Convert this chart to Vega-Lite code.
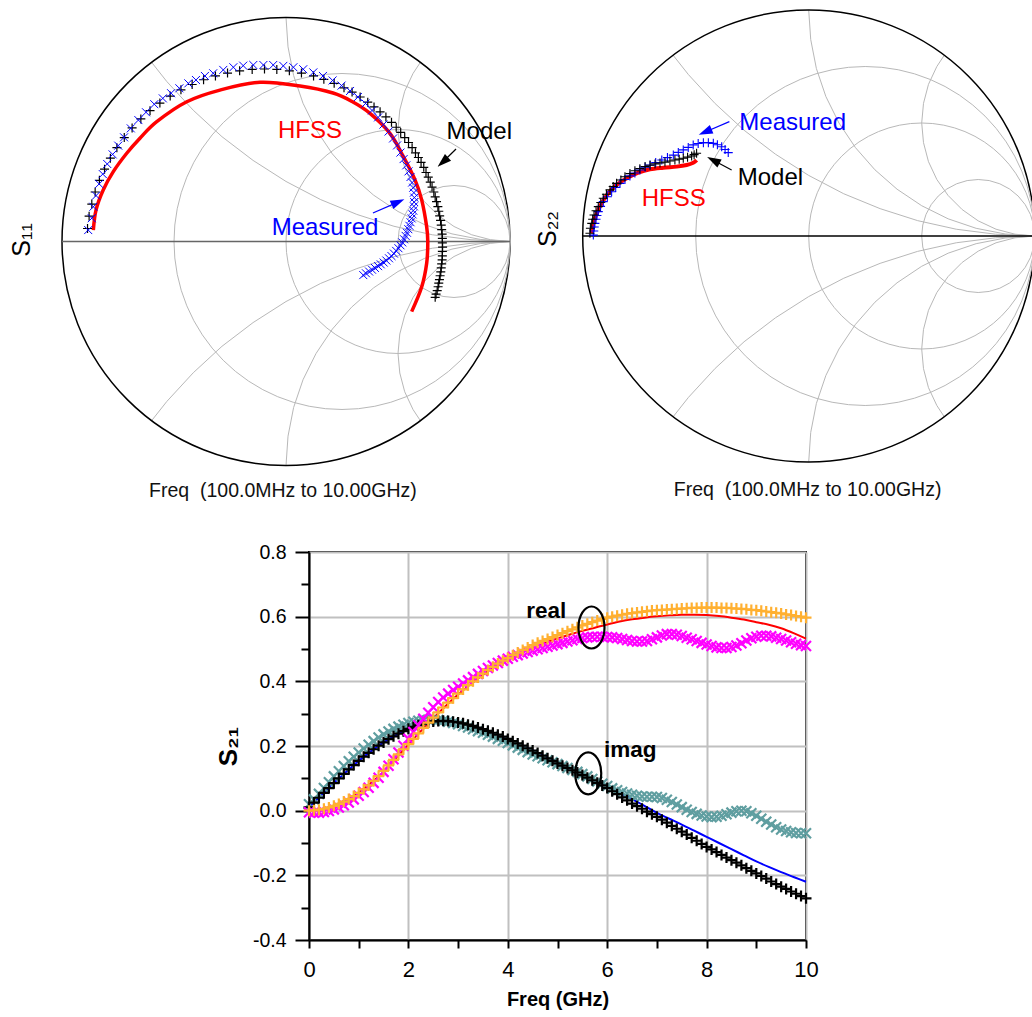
{
"$schema": "https://vega.github.io/schema/vega-lite/v6.json",
"padding": 0,
"background": "white",
"config": {"view": {"stroke": null}, "font": "Liberation Sans"},
"datasets": {
"grid": [
{"a":"a","i":0,"gx":-0.6,"gy":0.8},{"a":"a","i":1,"gx":-0.532,"gy":0.714},{"a":"a","i":2,"gx":-0.414,"gy":0.586},{"a":"a","i":3,"gx":-0.286,"gy":0.468},{"a":"a","i":4,"gx":-0.147,"gy":0.362},{"a":"a","i":5,"gx":0,"gy":0.268},{"a":"a","i":6,"gx":0.155,"gy":0.187},{"a":"a","i":7,"gx":0.316,"gy":0.121},{"a":"a","i":8,"gx":0.482,"gy":0.068},{"a":"a","i":9,"gx":0.653,"gy":0.030},{"a":"a","i":10,"gx":0.826,"gy":0.008},{"a":"a","i":11,"gx":1,"gy":0},
{"a":"b","i":0,"gx":-0.6,"gy":-0.8},{"a":"b","i":1,"gx":-0.532,"gy":-0.714},{"a":"b","i":2,"gx":-0.414,"gy":-0.586},{"a":"b","i":3,"gx":-0.286,"gy":-0.468},{"a":"b","i":4,"gx":-0.147,"gy":-0.362},{"a":"b","i":5,"gx":0,"gy":-0.268},{"a":"b","i":6,"gx":0.155,"gy":-0.187},{"a":"b","i":7,"gx":0.316,"gy":-0.121},{"a":"b","i":8,"gx":0.482,"gy":-0.068},{"a":"b","i":9,"gx":0.653,"gy":-0.030},{"a":"b","i":10,"gx":0.826,"gy":-0.008},{"a":"b","i":11,"gx":1,"gy":0},
{"a":"c","i":0,"gx":0,"gy":1},{"a":"c","i":1,"gx":0.009,"gy":0.869},{"a":"c","i":2,"gx":0.034,"gy":0.741},{"a":"c","i":3,"gx":0.076,"gy":0.617},{"a":"c","i":4,"gx":0.134,"gy":0.5},{"a":"c","i":5,"gx":0.207,"gy":0.391},{"a":"c","i":6,"gx":0.293,"gy":0.293},{"a":"c","i":7,"gx":0.391,"gy":0.207},{"a":"c","i":8,"gx":0.5,"gy":0.134},{"a":"c","i":9,"gx":0.617,"gy":0.076},{"a":"c","i":10,"gx":0.741,"gy":0.034},{"a":"c","i":11,"gx":0.869,"gy":0.009},{"a":"c","i":12,"gx":1,"gy":0},
{"a":"d","i":0,"gx":0,"gy":-1},{"a":"d","i":1,"gx":0.009,"gy":-0.869},{"a":"d","i":2,"gx":0.034,"gy":-0.741},{"a":"d","i":3,"gx":0.076,"gy":-0.617},{"a":"d","i":4,"gx":0.134,"gy":-0.5},{"a":"d","i":5,"gx":0.207,"gy":-0.391},{"a":"d","i":6,"gx":0.293,"gy":-0.293},{"a":"d","i":7,"gx":0.391,"gy":-0.207},{"a":"d","i":8,"gx":0.5,"gy":-0.134},{"a":"d","i":9,"gx":0.617,"gy":-0.076},{"a":"d","i":10,"gx":0.741,"gy":-0.034},{"a":"d","i":11,"gx":0.869,"gy":-0.009},{"a":"d","i":12,"gx":1,"gy":0},
{"a":"e","i":0,"gx":0.6,"gy":0.8},{"a":"e","i":1,"gx":0.567,"gy":0.75},{"a":"e","i":2,"gx":0.530,"gy":0.671},{"a":"e","i":3,"gx":0.508,"gy":0.587},{"a":"e","i":4,"gx":0.5,"gy":0.5},{"a":"e","i":5,"gx":0.508,"gy":0.413},{"a":"e","i":6,"gx":0.530,"gy":0.329},{"a":"e","i":7,"gx":0.567,"gy":0.25},{"a":"e","i":8,"gx":0.617,"gy":0.179},{"a":"e","i":9,"gx":0.679,"gy":0.117},{"a":"e","i":10,"gx":0.75,"gy":0.067},{"a":"e","i":11,"gx":0.829,"gy":0.030},{"a":"e","i":12,"gx":0.913,"gy":0.008},{"a":"e","i":13,"gx":1,"gy":0},
{"a":"f","i":0,"gx":0.6,"gy":-0.8},{"a":"f","i":1,"gx":0.567,"gy":-0.75},{"a":"f","i":2,"gx":0.530,"gy":-0.671},{"a":"f","i":3,"gx":0.508,"gy":-0.587},{"a":"f","i":4,"gx":0.5,"gy":-0.5},{"a":"f","i":5,"gx":0.508,"gy":-0.413},{"a":"f","i":6,"gx":0.530,"gy":-0.329},{"a":"f","i":7,"gx":0.567,"gy":-0.25},{"a":"f","i":8,"gx":0.617,"gy":-0.179},{"a":"f","i":9,"gx":0.679,"gy":-0.117},{"a":"f","i":10,"gx":0.75,"gy":-0.067},{"a":"f","i":11,"gx":0.829,"gy":-0.030},{"a":"f","i":12,"gx":0.913,"gy":-0.008},{"a":"f","i":13,"gx":1,"gy":0}
],
"circ": [{"gx":0,"gy":0,"d2":4,"k":"o"},{"gx":0.25,"gy":0,"d2":2.25,"k":"g"},{"gx":0.5,"gy":0,"d2":1,"k":"g"},{"gx":0.75,"gy":0,"d2":0.25,"k":"g"}],
"realaxis": [{"gx":-1,"hx":1,"gy":0}],
"s11h": [
{"i":0,"gx":-0.860,"gy":0.051},{"i":1,"gx":-0.848,"gy":0.141},{"i":2,"gx":-0.816,"gy":0.230},{"i":3,"gx":-0.771,"gy":0.312},{"i":4,"gx":-0.711,"gy":0.394},{"i":5,"gx":-0.652,"gy":0.461},{"i":6,"gx":-0.577,"gy":0.535},{"i":7,"gx":-0.443,"gy":0.624},{"i":8,"gx":-0.295,"gy":0.676},{"i":9,"gx":-0.116,"gy":0.711},{"i":10,"gx":0.063,"gy":0.694},{"i":11,"gx":0.210,"gy":0.663},{"i":12,"gx":0.295,"gy":0.625},{"i":13,"gx":0.375,"gy":0.572},{"i":14,"gx":0.464,"gy":0.483},{"i":15,"gx":0.524,"gy":0.379},{"i":16,"gx":0.576,"gy":0.275},{"i":17,"gx":0.606,"gy":0.185},{"i":18,"gx":0.628,"gy":0.066},{"i":19,"gx":0.633,"gy":-0.001},{"i":20,"gx":0.628,"gy":-0.097},{"i":21,"gx":0.606,"gy":-0.202},{"i":22,"gx":0.561,"gy":-0.313}
],
"s11m": [
{"gx":-0.886,"gy":0.058},{"gx":-0.879,"gy":0.113},{"gx":-0.867,"gy":0.167},{"gx":-0.852,"gy":0.221},{"gx":-0.833,"gy":0.273},{"gx":-0.810,"gy":0.323},{"gx":-0.784,"gy":0.372},{"gx":-0.755,"gy":0.419},{"gx":-0.722,"gy":0.464},{"gx":-0.687,"gy":0.507},{"gx":-0.648,"gy":0.547},{"gx":-0.607,"gy":0.584},{"gx":-0.563,"gy":0.618},{"gx":-0.517,"gy":0.649},{"gx":-0.469,"gy":0.677},{"gx":-0.419,"gy":0.701},{"gx":-0.368,"gy":0.722},{"gx":-0.315,"gy":0.739},{"gx":-0.261,"gy":0.752},{"gx":-0.207,"gy":0.762},{"gx":-0.151,"gy":0.768},{"gx":-0.096,"gy":0.770},{"gx":-0.041,"gy":0.768},{"gx":0.015,"gy":0.762},{"gx":0.069,"gy":0.752},{"gx":0.123,"gy":0.739},{"gx":0.169,"gy":0.724},{"gx":0.215,"gy":0.706},{"gx":0.259,"gy":0.686},{"gx":0.295,"gy":0.667},{"gx":0.331,"gy":0.645},{"gx":0.365,"gy":0.622},{"gx":0.393,"gy":0.601},{"gx":0.420,"gy":0.579},{"gx":0.446,"gy":0.556},{"gx":0.471,"gy":0.532},{"gx":0.492,"gy":0.510},{"gx":0.512,"gy":0.487},{"gx":0.530,"gy":0.464},{"gx":0.547,"gy":0.442},{"gx":0.563,"gy":0.419},{"gx":0.578,"gy":0.396},{"gx":0.591,"gy":0.375},{"gx":0.603,"gy":0.353},{"gx":0.615,"gy":0.331},{"gx":0.625,"gy":0.308},{"gx":0.635,"gy":0.287},{"gx":0.644,"gy":0.265},{"gx":0.652,"gy":0.243},{"gx":0.660,"gy":0.221},{"gx":0.666,"gy":0.199},{"gx":0.672,"gy":0.178},{"gx":0.678,"gy":0.156},{"gx":0.682,"gy":0.135},{"gx":0.686,"gy":0.114},{"gx":0.690,"gy":0.094},{"gx":0.693,"gy":0.073},{"gx":0.695,"gy":0.053},{"gx":0.697,"gy":0.033},{"gx":0.698,"gy":0.014},{"gx":0.698,"gy":-0.006},{"gx":0.699,"gy":-0.025},{"gx":0.698,"gy":-0.044},{"gx":0.698,"gy":-0.064},{"gx":0.697,"gy":-0.082},{"gx":0.695,"gy":-0.100},{"gx":0.693,"gy":-0.118},{"gx":0.691,"gy":-0.136},{"gx":0.688,"gy":-0.153},{"gx":0.685,"gy":-0.170},{"gx":0.682,"gy":-0.186},{"gx":0.679,"gy":-0.202},{"gx":0.675,"gy":-0.219},{"gx":0.670,"gy":-0.235},{"gx":0.666,"gy":-0.249}
],
"s11x": [
{"gx":-0.883,"gy":0.051},{"gx":-0.867,"gy":0.104},{"gx":-0.860,"gy":0.155},{"gx":-0.848,"gy":0.205},{"gx":-0.834,"gy":0.257},{"gx":-0.818,"gy":0.301},{"gx":-0.798,"gy":0.346},{"gx":-0.774,"gy":0.389},{"gx":-0.749,"gy":0.428},{"gx":-0.723,"gy":0.465},{"gx":-0.693,"gy":0.505},{"gx":-0.659,"gy":0.542},{"gx":-0.625,"gy":0.577},{"gx":-0.588,"gy":0.613},{"gx":-0.550,"gy":0.639},{"gx":-0.513,"gy":0.662},{"gx":-0.476,"gy":0.684},{"gx":-0.436,"gy":0.706},{"gx":-0.402,"gy":0.721},{"gx":-0.362,"gy":0.739},{"gx":-0.325,"gy":0.751},{"gx":-0.280,"gy":0.766},{"gx":-0.235,"gy":0.778},{"gx":-0.191,"gy":0.785},{"gx":-0.146,"gy":0.788},{"gx":-0.101,"gy":0.788},{"gx":-0.057,"gy":0.788},{"gx":-0.012,"gy":0.784},{"gx":0.033,"gy":0.778},{"gx":0.077,"gy":0.769},{"gx":0.122,"gy":0.755},{"gx":0.165,"gy":0.739},{"gx":0.208,"gy":0.719},{"gx":0.248,"gy":0.696},{"gx":0.286,"gy":0.672},{"gx":0.321,"gy":0.645},{"gx":0.355,"gy":0.616},{"gx":0.384,"gy":0.585},{"gx":0.411,"gy":0.554},{"gx":0.435,"gy":0.522},{"gx":0.458,"gy":0.491},{"gx":0.478,"gy":0.460},{"gx":0.496,"gy":0.429},{"gx":0.511,"gy":0.397},{"gx":0.525,"gy":0.368},{"gx":0.537,"gy":0.340},{"gx":0.547,"gy":0.313},{"gx":0.556,"gy":0.288},{"gx":0.563,"gy":0.263},{"gx":0.568,"gy":0.240},{"gx":0.571,"gy":0.218},{"gx":0.573,"gy":0.196},{"gx":0.572,"gy":0.176},{"gx":0.571,"gy":0.157},{"gx":0.568,"gy":0.138},{"gx":0.565,"gy":0.121},{"gx":0.561,"gy":0.103},{"gx":0.556,"gy":0.086},{"gx":0.551,"gy":0.070},{"gx":0.546,"gy":0.055},{"gx":0.540,"gy":0.039},{"gx":0.534,"gy":0.025},{"gx":0.527,"gy":0.010},{"gx":0.519,"gy":-0.004},{"gx":0.511,"gy":-0.017},{"gx":0.502,"gy":-0.030},{"gx":0.492,"gy":-0.042},{"gx":0.482,"gy":-0.054},{"gx":0.471,"gy":-0.065},{"gx":0.460,"gy":-0.075},{"gx":0.448,"gy":-0.085},{"gx":0.436,"gy":-0.094},{"gx":0.423,"gy":-0.102},{"gx":0.411,"gy":-0.110},{"gx":0.397,"gy":-0.118},{"gx":0.384,"gy":-0.126},{"gx":0.371,"gy":-0.134},{"gx":0.357,"gy":-0.142},{"gx":0.345,"gy":-0.150}
],
"s22h": [
{"i":0,"gx":-0.960,"gy":0.012},{"i":1,"gx":-0.953,"gy":0.056},{"i":2,"gx":-0.938,"gy":0.100},{"i":3,"gx":-0.916,"gy":0.145},{"i":4,"gx":-0.887,"gy":0.189},{"i":5,"gx":-0.850,"gy":0.226},{"i":6,"gx":-0.805,"gy":0.255},{"i":7,"gx":-0.754,"gy":0.280},{"i":8,"gx":-0.702,"gy":0.295},{"i":9,"gx":-0.643,"gy":0.302},{"i":10,"gx":-0.584,"gy":0.307},{"i":11,"gx":-0.540,"gy":0.314},{"i":12,"gx":-0.511,"gy":0.324},{"i":13,"gx":-0.496,"gy":0.336}
],
"s22m": [
{"gx":-0.968,"gy":0.012},{"gx":-0.966,"gy":0.034},{"gx":-0.960,"gy":0.056},{"gx":-0.956,"gy":0.074},{"gx":-0.950,"gy":0.093},{"gx":-0.941,"gy":0.112},{"gx":-0.931,"gy":0.130},{"gx":-0.920,"gy":0.148},{"gx":-0.909,"gy":0.167},{"gx":-0.895,"gy":0.185},{"gx":-0.879,"gy":0.204},{"gx":-0.865,"gy":0.219},{"gx":-0.850,"gy":0.233},{"gx":-0.831,"gy":0.248},{"gx":-0.813,"gy":0.262},{"gx":-0.791,"gy":0.276},{"gx":-0.769,"gy":0.289},{"gx":-0.747,"gy":0.298},{"gx":-0.724,"gy":0.307},{"gx":-0.702,"gy":0.313},{"gx":-0.680,"gy":0.319},{"gx":-0.658,"gy":0.323},{"gx":-0.636,"gy":0.327},{"gx":-0.614,"gy":0.332},{"gx":-0.592,"gy":0.336},{"gx":-0.573,"gy":0.340},{"gx":-0.555,"gy":0.344},{"gx":-0.536,"gy":0.349},{"gx":-0.518,"gy":0.354},{"gx":-0.507,"gy":0.360},{"gx":-0.496,"gy":0.366}
],
"s22x": [
{"gx":-0.953,"gy":0.004},{"gx":-0.951,"gy":0.022},{"gx":-0.949,"gy":0.040},{"gx":-0.946,"gy":0.056},{"gx":-0.941,"gy":0.074},{"gx":-0.937,"gy":0.091},{"gx":-0.931,"gy":0.108},{"gx":-0.921,"gy":0.131},{"gx":-0.909,"gy":0.152},{"gx":-0.891,"gy":0.174},{"gx":-0.872,"gy":0.196},{"gx":-0.854,"gy":0.215},{"gx":-0.835,"gy":0.233},{"gx":-0.813,"gy":0.250},{"gx":-0.791,"gy":0.266},{"gx":-0.769,"gy":0.279},{"gx":-0.747,"gy":0.292},{"gx":-0.724,"gy":0.304},{"gx":-0.702,"gy":0.314},{"gx":-0.677,"gy":0.325},{"gx":-0.650,"gy":0.336},{"gx":-0.625,"gy":0.347},{"gx":-0.599,"gy":0.358},{"gx":-0.577,"gy":0.370},{"gx":-0.555,"gy":0.381},{"gx":-0.533,"gy":0.392},{"gx":-0.511,"gy":0.403},{"gx":-0.489,"gy":0.409},{"gx":-0.466,"gy":0.413},{"gx":-0.444,"gy":0.413},{"gx":-0.422,"gy":0.410},{"gx":-0.404,"gy":0.404},{"gx":-0.385,"gy":0.395},{"gx":-0.370,"gy":0.383},{"gx":-0.356,"gy":0.369}
],
"ann1": [{"gx":-0.036,"gy":0.461,"t":"HFSS","c":"#ff0000"},{"gx":0.717,"gy":0.456,"t":"Model","c":"#000000"},{"gx":-0.064,"gy":0.029,"t":"Measured","c":"#0000ff"}],
"ann2": [{"gx":-0.307,"gy":0.469,"t":"Measured","c":"#0000ff"},{"gx":-0.314,"gy":0.226,"t":"Model","c":"#000000"},{"gx":-0.739,"gy":0.133,"t":"HFSS","c":"#ff0000"}],
"arr1": [{"gx":0.759,"gy":0.413,"hx":0.700,"hy":0.355,"ang":228,"c":"#000000"},{"gx":0.388,"gy":0.127,"hx":0.500,"hy":0.176,"ang":66,"c":"#0000ff"}],
"arr2": [{"gx":-0.351,"gy":0.506,"hx":-0.458,"hy":0.460,"ang":247,"c":"#0000ff"},{"gx":-0.341,"gy":0.292,"hx":-0.422,"hy":0.335,"ang":298,"c":"#000000"}],
"ftit1": [{"gx":-0.014,"gy":-1.142,"t":"Freq\u00a0 (100.0MHz to 10.00GHz)"}],
"ftit2": [{"gx":-0.005,"gy":-1.149,"t":"Freq\u00a0 (100.0MHz to 10.00GHz)"}],
"ylab1": [{"gx":-1.179,"gy":0.007,"t":"S\u2081\u2081"}],
"ylab2": [{"gx":-1.1535,"gy":0.031,"t":"S\u2082\u2082"}],
"rh": [
{"f":0,"v":0},{"f":0.25,"v":0.004},{"f":0.5,"v":0.016},{"f":0.75,"v":0.034},{"f":1,"v":0.057},{"f":1.25,"v":0.086},{"f":1.5,"v":0.12},{"f":1.75,"v":0.162},{"f":2,"v":0.204},{"f":2.25,"v":0.246},{"f":2.5,"v":0.286},{"f":2.75,"v":0.324},{"f":3,"v":0.359},{"f":3.25,"v":0.391},{"f":3.5,"v":0.42},{"f":3.75,"v":0.446},{"f":4,"v":0.468},{"f":4.25,"v":0.487},{"f":4.5,"v":0.505},{"f":4.75,"v":0.52},{"f":5,"v":0.533},{"f":5.25,"v":0.545},{"f":5.5,"v":0.556},{"f":5.75,"v":0.566},{"f":6,"v":0.576},{"f":6.25,"v":0.585},{"f":6.5,"v":0.592},{"f":6.75,"v":0.597},{"f":7,"v":0.601},{"f":7.25,"v":0.604},{"f":7.5,"v":0.606},{"f":7.75,"v":0.606},{"f":8,"v":0.605},{"f":8.25,"v":0.602},{"f":8.5,"v":0.597},{"f":8.75,"v":0.591},{"f":9,"v":0.583},{"f":9.25,"v":0.575},{"f":9.5,"v":0.564},{"f":9.75,"v":0.549},{"f":10,"v":0.532}
],
"ih": [
{"f":0,"v":0.01},{"f":0.25,"v":0.048},{"f":0.5,"v":0.086},{"f":0.75,"v":0.12},{"f":1,"v":0.154},{"f":1.25,"v":0.184},{"f":1.5,"v":0.211},{"f":1.75,"v":0.234},{"f":2,"v":0.253},{"f":2.25,"v":0.267},{"f":2.5,"v":0.276},{"f":2.75,"v":0.278},{"f":3,"v":0.273},{"f":3.25,"v":0.263},{"f":3.5,"v":0.252},{"f":3.75,"v":0.238},{"f":4,"v":0.223},{"f":4.25,"v":0.205},{"f":4.5,"v":0.187},{"f":4.75,"v":0.167},{"f":5,"v":0.148},{"f":5.25,"v":0.129},{"f":5.5,"v":0.111},{"f":5.75,"v":0.092},{"f":6,"v":0.074},{"f":6.25,"v":0.055},{"f":6.5,"v":0.036},{"f":6.75,"v":0.015},{"f":7,"v":-0.007},{"f":7.25,"v":-0.025},{"f":7.5,"v":-0.043},{"f":7.75,"v":-0.062},{"f":8,"v":-0.081},{"f":8.25,"v":-0.1},{"f":8.5,"v":-0.119},{"f":8.75,"v":-0.138},{"f":9,"v":-0.157},{"f":9.25,"v":-0.174},{"f":9.5,"v":-0.19},{"f":9.75,"v":-0.205},{"f":10,"v":-0.22}
],
"rm": [
{"f":0,"v":0},{"f":0.1,"v":0.001},{"f":0.2,"v":0.003},{"f":0.3,"v":0.006},{"f":0.4,"v":0.01},{"f":0.5,"v":0.015},{"f":0.6,"v":0.021},{"f":0.7,"v":0.028},{"f":0.8,"v":0.036},{"f":0.9,"v":0.045},{"f":1,"v":0.055},{"f":1.1,"v":0.066},{"f":1.2,"v":0.078},{"f":1.3,"v":0.092},{"f":1.4,"v":0.107},{"f":1.5,"v":0.123},{"f":1.6,"v":0.14},{"f":1.7,"v":0.157},{"f":1.8,"v":0.174},{"f":1.9,"v":0.19},{"f":2,"v":0.206},{"f":2.1,"v":0.222},{"f":2.2,"v":0.239},{"f":2.3,"v":0.256},{"f":2.4,"v":0.272},{"f":2.5,"v":0.288},{"f":2.6,"v":0.304},{"f":2.7,"v":0.319},{"f":2.8,"v":0.334},{"f":2.9,"v":0.348},{"f":3,"v":0.362},{"f":3.1,"v":0.375},{"f":3.2,"v":0.388},{"f":3.3,"v":0.4},{"f":3.4,"v":0.412},{"f":3.5,"v":0.424},{"f":3.6,"v":0.435},{"f":3.7,"v":0.445},{"f":3.8,"v":0.455},{"f":3.9,"v":0.464},{"f":4,"v":0.472},{"f":4.1,"v":0.481},{"f":4.2,"v":0.489},{"f":4.3,"v":0.497},{"f":4.4,"v":0.505},{"f":4.5,"v":0.512},{"f":4.6,"v":0.519},{"f":4.7,"v":0.525},{"f":4.8,"v":0.531},{"f":4.9,"v":0.537},{"f":5,"v":0.543},{"f":5.1,"v":0.549},{"f":5.2,"v":0.555},{"f":5.3,"v":0.561},{"f":5.4,"v":0.567},{"f":5.5,"v":0.573},{"f":5.6,"v":0.578},{"f":5.7,"v":0.583},{"f":5.8,"v":0.588},{"f":5.9,"v":0.593},{"f":6,"v":0.597},{"f":6.1,"v":0.6},{"f":6.2,"v":0.603},{"f":6.3,"v":0.606},{"f":6.4,"v":0.609},{"f":6.5,"v":0.611},{"f":6.6,"v":0.613},{"f":6.7,"v":0.615},{"f":6.8,"v":0.617},{"f":6.9,"v":0.619},{"f":7,"v":0.62},{"f":7.1,"v":0.621},{"f":7.2,"v":0.622},{"f":7.3,"v":0.623},{"f":7.4,"v":0.624},{"f":7.5,"v":0.625},{"f":7.6,"v":0.626},{"f":7.7,"v":0.627},{"f":7.8,"v":0.627},{"f":7.9,"v":0.628},{"f":8,"v":0.628},{"f":8.1,"v":0.628},{"f":8.2,"v":0.628},{"f":8.3,"v":0.627},{"f":8.4,"v":0.627},{"f":8.5,"v":0.626},{"f":8.6,"v":0.625},{"f":8.7,"v":0.624},{"f":8.8,"v":0.623},{"f":8.9,"v":0.621},{"f":9,"v":0.62},{"f":9.1,"v":0.618},{"f":9.2,"v":0.616},{"f":9.3,"v":0.614},{"f":9.4,"v":0.612},{"f":9.5,"v":0.61},{"f":9.6,"v":0.607},{"f":9.7,"v":0.605},{"f":9.8,"v":0.602},{"f":9.9,"v":0.6},{"f":10,"v":0.597}
],
"rx": [
{"f":0,"v":-0.005},{"f":0.1,"v":-0.006},{"f":0.2,"v":-0.006},{"f":0.3,"v":-0.004},{"f":0.4,"v":-0.001},{"f":0.5,"v":0.004},{"f":0.6,"v":0.01},{"f":0.7,"v":0.017},{"f":0.8,"v":0.025},{"f":0.9,"v":0.035},{"f":1,"v":0.046},{"f":1.1,"v":0.058},{"f":1.2,"v":0.071},{"f":1.3,"v":0.086},{"f":1.4,"v":0.102},{"f":1.5,"v":0.12},{"f":1.6,"v":0.139},{"f":1.7,"v":0.159},{"f":1.8,"v":0.18},{"f":1.9,"v":0.201},{"f":2,"v":0.222},{"f":2.1,"v":0.243},{"f":2.2,"v":0.264},{"f":2.3,"v":0.284},{"f":2.4,"v":0.303},{"f":2.5,"v":0.32},{"f":2.6,"v":0.336},{"f":2.7,"v":0.35},{"f":2.8,"v":0.362},{"f":2.9,"v":0.373},{"f":3,"v":0.383},{"f":3.1,"v":0.393},{"f":3.2,"v":0.403},{"f":3.3,"v":0.413},{"f":3.4,"v":0.423},{"f":3.5,"v":0.432},{"f":3.6,"v":0.441},{"f":3.7,"v":0.449},{"f":3.8,"v":0.457},{"f":3.9,"v":0.464},{"f":4,"v":0.47},{"f":4.1,"v":0.476},{"f":4.2,"v":0.481},{"f":4.3,"v":0.486},{"f":4.4,"v":0.491},{"f":4.5,"v":0.495},{"f":4.6,"v":0.499},{"f":4.7,"v":0.503},{"f":4.8,"v":0.507},{"f":4.9,"v":0.511},{"f":5,"v":0.515},{"f":5.1,"v":0.519},{"f":5.2,"v":0.523},{"f":5.3,"v":0.527},{"f":5.4,"v":0.531},{"f":5.5,"v":0.534},{"f":5.6,"v":0.536},{"f":5.7,"v":0.537},{"f":5.8,"v":0.538},{"f":5.9,"v":0.538},{"f":6,"v":0.537},{"f":6.1,"v":0.536},{"f":6.2,"v":0.534},{"f":6.3,"v":0.531},{"f":6.4,"v":0.528},{"f":6.5,"v":0.525},{"f":6.6,"v":0.523},{"f":6.7,"v":0.523},{"f":6.8,"v":0.525},{"f":6.9,"v":0.53},{"f":7,"v":0.536},{"f":7.1,"v":0.542},{"f":7.2,"v":0.546},{"f":7.3,"v":0.546},{"f":7.4,"v":0.544},{"f":7.5,"v":0.54},{"f":7.6,"v":0.535},{"f":7.7,"v":0.53},{"f":7.8,"v":0.525},{"f":7.9,"v":0.519},{"f":8,"v":0.514},{"f":8.1,"v":0.509},{"f":8.2,"v":0.505},{"f":8.3,"v":0.503},{"f":8.4,"v":0.503},{"f":8.5,"v":0.506},{"f":8.6,"v":0.511},{"f":8.7,"v":0.518},{"f":8.8,"v":0.526},{"f":8.9,"v":0.533},{"f":9,"v":0.538},{"f":9.1,"v":0.541},{"f":9.2,"v":0.541},{"f":9.3,"v":0.539},{"f":9.4,"v":0.535},{"f":9.5,"v":0.531},{"f":9.6,"v":0.526},{"f":9.7,"v":0.521},{"f":9.8,"v":0.516},{"f":9.9,"v":0.512},{"f":10,"v":0.509}
],
"im": [
{"f":0,"v":0.01},{"f":0.1,"v":0.025},{"f":0.2,"v":0.04},{"f":0.3,"v":0.055},{"f":0.4,"v":0.07},{"f":0.5,"v":0.085},{"f":0.6,"v":0.1},{"f":0.7,"v":0.114},{"f":0.8,"v":0.128},{"f":0.9,"v":0.141},{"f":1,"v":0.154},{"f":1.1,"v":0.167},{"f":1.2,"v":0.179},{"f":1.3,"v":0.19},{"f":1.4,"v":0.201},{"f":1.5,"v":0.211},{"f":1.6,"v":0.221},{"f":1.7,"v":0.23},{"f":1.8,"v":0.238},{"f":1.9,"v":0.246},{"f":2,"v":0.253},{"f":2.1,"v":0.259},{"f":2.2,"v":0.264},{"f":2.3,"v":0.269},{"f":2.4,"v":0.273},{"f":2.5,"v":0.276},{"f":2.6,"v":0.277},{"f":2.7,"v":0.278},{"f":2.8,"v":0.277},{"f":2.9,"v":0.275},{"f":3,"v":0.273},{"f":3.1,"v":0.27},{"f":3.2,"v":0.266},{"f":3.3,"v":0.262},{"f":3.4,"v":0.257},{"f":3.5,"v":0.252},{"f":3.6,"v":0.247},{"f":3.7,"v":0.241},{"f":3.8,"v":0.235},{"f":3.9,"v":0.229},{"f":4,"v":0.222},{"f":4.1,"v":0.215},{"f":4.2,"v":0.208},{"f":4.3,"v":0.201},{"f":4.4,"v":0.193},{"f":4.5,"v":0.186},{"f":4.6,"v":0.178},{"f":4.7,"v":0.17},{"f":4.8,"v":0.162},{"f":4.9,"v":0.154},{"f":5,"v":0.146},{"f":5.1,"v":0.139},{"f":5.2,"v":0.132},{"f":5.3,"v":0.125},{"f":5.4,"v":0.118},{"f":5.5,"v":0.11},{"f":5.6,"v":0.102},{"f":5.7,"v":0.094},{"f":5.8,"v":0.086},{"f":5.9,"v":0.078},{"f":6,"v":0.07},{"f":6.1,"v":0.06},{"f":6.2,"v":0.051},{"f":6.3,"v":0.041},{"f":6.4,"v":0.032},{"f":6.5,"v":0.022},{"f":6.6,"v":0.014},{"f":6.7,"v":0.006},{"f":6.8,"v":-0.003},{"f":6.9,"v":-0.011},{"f":7,"v":-0.019},{"f":7.1,"v":-0.028},{"f":7.2,"v":-0.037},{"f":7.3,"v":-0.047},{"f":7.4,"v":-0.056},{"f":7.5,"v":-0.065},{"f":7.6,"v":-0.074},{"f":7.7,"v":-0.084},{"f":7.8,"v":-0.093},{"f":7.9,"v":-0.103},{"f":8,"v":-0.112},{"f":8.1,"v":-0.12},{"f":8.2,"v":-0.128},{"f":8.3,"v":-0.137},{"f":8.4,"v":-0.145},{"f":8.5,"v":-0.153},{"f":8.6,"v":-0.161},{"f":8.7,"v":-0.169},{"f":8.8,"v":-0.178},{"f":8.9,"v":-0.186},{"f":9,"v":-0.194},{"f":9.1,"v":-0.202},{"f":9.2,"v":-0.21},{"f":9.3,"v":-0.219},{"f":9.4,"v":-0.227},{"f":9.5,"v":-0.235},{"f":9.6,"v":-0.242},{"f":9.7,"v":-0.25},{"f":9.8,"v":-0.257},{"f":9.9,"v":-0.264},{"f":10,"v":-0.271}
],
"ix": [
{"f":0,"v":0.02},{"f":0.1,"v":0.035},{"f":0.2,"v":0.052},{"f":0.3,"v":0.07},{"f":0.4,"v":0.088},{"f":0.5,"v":0.106},{"f":0.6,"v":0.122},{"f":0.7,"v":0.138},{"f":0.8,"v":0.153},{"f":0.9,"v":0.167},{"f":1,"v":0.18},{"f":1.1,"v":0.192},{"f":1.2,"v":0.204},{"f":1.3,"v":0.215},{"f":1.4,"v":0.226},{"f":1.5,"v":0.236},{"f":1.6,"v":0.245},{"f":1.7,"v":0.253},{"f":1.8,"v":0.26},{"f":1.9,"v":0.266},{"f":2,"v":0.271},{"f":2.1,"v":0.275},{"f":2.2,"v":0.278},{"f":2.3,"v":0.28},{"f":2.4,"v":0.281},{"f":2.5,"v":0.281},{"f":2.6,"v":0.28},{"f":2.7,"v":0.278},{"f":2.8,"v":0.275},{"f":2.9,"v":0.271},{"f":3,"v":0.267},{"f":3.1,"v":0.262},{"f":3.2,"v":0.257},{"f":3.3,"v":0.252},{"f":3.4,"v":0.246},{"f":3.5,"v":0.241},{"f":3.6,"v":0.235},{"f":3.7,"v":0.229},{"f":3.8,"v":0.222},{"f":3.9,"v":0.216},{"f":4,"v":0.209},{"f":4.1,"v":0.202},{"f":4.2,"v":0.195},{"f":4.3,"v":0.188},{"f":4.4,"v":0.181},{"f":4.5,"v":0.174},{"f":4.6,"v":0.168},{"f":4.7,"v":0.162},{"f":4.8,"v":0.156},{"f":4.9,"v":0.15},{"f":5,"v":0.144},{"f":5.1,"v":0.138},{"f":5.2,"v":0.132},{"f":5.3,"v":0.126},{"f":5.4,"v":0.12},{"f":5.5,"v":0.113},{"f":5.6,"v":0.106},{"f":5.7,"v":0.098},{"f":5.8,"v":0.09},{"f":5.9,"v":0.083},{"f":6,"v":0.076},{"f":6.1,"v":0.069},{"f":6.2,"v":0.063},{"f":6.3,"v":0.058},{"f":6.4,"v":0.053},{"f":6.5,"v":0.049},{"f":6.6,"v":0.046},{"f":6.7,"v":0.044},{"f":6.8,"v":0.043},{"f":6.9,"v":0.043},{"f":7,"v":0.042},{"f":7.1,"v":0.039},{"f":7.2,"v":0.034},{"f":7.3,"v":0.027},{"f":7.4,"v":0.019},{"f":7.5,"v":0.011},{"f":7.6,"v":0.003},{"f":7.7,"v":-0.004},{"f":7.8,"v":-0.01},{"f":7.9,"v":-0.015},{"f":8,"v":-0.018},{"f":8.1,"v":-0.02},{"f":8.2,"v":-0.019},{"f":8.3,"v":-0.016},{"f":8.4,"v":-0.011},{"f":8.5,"v":-0.006},{"f":8.6,"v":-0.002},{"f":8.7,"v":0},{"f":8.8,"v":-0.002},{"f":8.9,"v":-0.008},{"f":9,"v":-0.016},{"f":9.1,"v":-0.025},{"f":9.2,"v":-0.034},{"f":9.3,"v":-0.043},{"f":9.4,"v":-0.051},{"f":9.5,"v":-0.058},{"f":9.6,"v":-0.063},{"f":9.7,"v":-0.067},{"f":9.8,"v":-0.069},{"f":9.9,"v":-0.07},{"f":10,"v":-0.07}
],
"lab": [{"f":4.37,"v":0.595,"t":"real"},{"f":5.936,"v":0.167,"t":"imag"}],
"ell": [{"f":5.684,"v":0.5665},{"f":5.618,"v":0.1155}]
},
"vconcat": [
{
"width": 1032, "height": 510,
"layer": [
{"layer": [
{"data": {"name": "grid"}, "mark": {"type": "line", "stroke": "#b8b8b8", "strokeWidth": 1},
 "encoding": {"x": {"field": "gx", "type": "quantitative", "scale": {"domain": [-1.276786, 3.330357], "nice": false, "zero": false}, "axis": null},
  "y": {"field": "gy", "type": "quantitative", "scale": {"domain": [-1.198661, 1.078125], "nice": false, "zero": false}, "axis": null},
  "detail": {"field": "a", "type": "nominal"}, "order": {"field": "i", "type": "quantitative"}}},
{"data": {"name": "circ"}, "mark": {"type": "point", "shape": "circle", "filled": false, "opacity": 1},
 "encoding": {"x": {"field": "gx", "type": "quantitative", "axis": null}, "y": {"field": "gy", "type": "quantitative", "axis": null},
  "size": {"field": "d2", "type": "quantitative", "scale": {"type": "linear", "domain": [0, 4], "range": [0, 200704]}, "legend": null},
  "stroke": {"condition": {"test": "datum.k === 'o'", "value": "#000000"}, "value": "#b8b8b8"},
  "strokeWidth": {"condition": {"test": "datum.k === 'o'", "value": 1.5}, "value": 1}}},
{"data": {"name": "realaxis"}, "mark": {"type": "rule", "color": "#666666", "strokeWidth": 1.3},
 "encoding": {"x": {"field": "gx", "type": "quantitative", "axis": null}, "x2": {"field": "hx"}, "y": {"field": "gy", "type": "quantitative", "axis": null}}},
{"data": {"name": "s11h"}, "mark": {"type": "line", "color": "#ff0000", "strokeWidth": 3.5, "interpolate": "cardinal"},
 "encoding": {"x": {"field": "gx", "type": "quantitative", "axis": null}, "y": {"field": "gy", "type": "quantitative", "axis": null}, "order": {"field": "i", "type": "quantitative"}}},
{"data": {"name": "s11m"}, "mark": {"type": "point", "shape": "M-1,0L1,0M0,-1L0,1", "size": 81, "strokeWidth": 1.2, "color": "#000000", "filled": false, "opacity": 1},
 "encoding": {"x": {"field": "gx", "type": "quantitative", "axis": null}, "y": {"field": "gy", "type": "quantitative", "axis": null}}},
{"data": {"name": "s11x"}, "mark": {"type": "point", "shape": "M-1,-1L1,1M-1,1L1,-1", "size": 64, "strokeWidth": 1, "color": "#0000ff", "filled": false, "opacity": 1},
 "encoding": {"x": {"field": "gx", "type": "quantitative", "axis": null}, "y": {"field": "gy", "type": "quantitative", "axis": null}}},
{"data": {"name": "arr1"}, "mark": {"type": "rule", "strokeWidth": 1.2},
 "encoding": {"x": {"field": "gx", "type": "quantitative", "axis": null}, "y": {"field": "gy", "type": "quantitative", "axis": null}, "x2": {"field": "hx"}, "y2": {"field": "hy"}, "color": {"field": "c", "type": "nominal", "scale": null}}},
{"data": {"name": "arr1"}, "mark": {"type": "point", "shape": "M0,-1L0.65,1L-0.65,1Z", "size": 196, "filled": true, "opacity": 1},
 "encoding": {"x": {"field": "hx", "type": "quantitative", "axis": null}, "y": {"field": "hy", "type": "quantitative", "axis": null}, "angle": {"field": "ang", "type": "quantitative", "scale": null}, "color": {"field": "c", "type": "nominal", "scale": null}}},
{"data": {"name": "ann1"}, "mark": {"type": "text", "fontSize": 24, "align": "left", "baseline": "alphabetic"},
 "encoding": {"x": {"field": "gx", "type": "quantitative", "axis": null}, "y": {"field": "gy", "type": "quantitative", "axis": null}, "text": {"field": "t"}, "color": {"field": "c", "type": "nominal", "scale": null}}},
{"data": {"name": "ftit1"}, "mark": {"type": "text", "fontSize": 19.5, "align": "center", "baseline": "alphabetic", "color": "#111111"},
 "encoding": {"x": {"field": "gx", "type": "quantitative", "axis": null}, "y": {"field": "gy", "type": "quantitative", "axis": null}, "text": {"field": "t"}}},
{"data": {"name": "ylab1"}, "mark": {"type": "text", "fontSize": 25, "align": "center", "baseline": "middle", "angle": 270, "color": "#000000"},
 "encoding": {"x": {"field": "gx", "type": "quantitative", "axis": null}, "y": {"field": "gy", "type": "quantitative", "axis": null}, "text": {"field": "t"}}}
]},
{"layer": [
{"data": {"name": "grid"}, "mark": {"type": "line", "stroke": "#b8b8b8", "strokeWidth": 1, "clip": true},
 "encoding": {"x": {"field": "gx", "type": "quantitative", "scale": {"domain": [-3.578319, 0.988053], "nice": false, "zero": false}, "axis": null},
  "y": {"field": "gy", "type": "quantitative", "scale": {"domain": [-1.212389, 1.044248], "nice": false, "zero": false}, "axis": null},
  "detail": {"field": "a", "type": "nominal"}, "order": {"field": "i", "type": "quantitative"}}},
{"data": {"name": "circ"}, "mark": {"type": "point", "shape": "circle", "filled": false, "opacity": 1, "clip": true},
 "encoding": {"x": {"field": "gx", "type": "quantitative", "axis": null}, "y": {"field": "gy", "type": "quantitative", "axis": null},
  "size": {"field": "d2", "type": "quantitative", "scale": {"type": "linear", "domain": [0, 4], "range": [0, 204304]}, "legend": null},
  "stroke": {"condition": {"test": "datum.k === 'o'", "value": "#000000"}, "value": "#b8b8b8"},
  "strokeWidth": {"condition": {"test": "datum.k === 'o'", "value": 1.5}, "value": 1}}},
{"data": {"name": "realaxis"}, "mark": {"type": "rule", "color": "#000000", "strokeWidth": 1.3, "clip": true},
 "encoding": {"x": {"field": "gx", "type": "quantitative", "axis": null}, "x2": {"field": "hx"}, "y": {"field": "gy", "type": "quantitative", "axis": null}}},
{"data": {"name": "s22h"}, "mark": {"type": "line", "color": "#ff0000", "strokeWidth": 4, "interpolate": "cardinal"},
 "encoding": {"x": {"field": "gx", "type": "quantitative", "axis": null}, "y": {"field": "gy", "type": "quantitative", "axis": null}, "order": {"field": "i", "type": "quantitative"}}},
{"data": {"name": "s22x"}, "mark": {"type": "point", "shape": "M-1,0L1,0M0,-1L0,1", "size": 81, "strokeWidth": 1.1, "color": "#0000ff", "filled": false, "opacity": 1},
 "encoding": {"x": {"field": "gx", "type": "quantitative", "axis": null}, "y": {"field": "gy", "type": "quantitative", "axis": null}}},
{"data": {"name": "s22m"}, "mark": {"type": "point", "shape": "M-1,0L1,0M0,-1L0,1", "size": 81, "strokeWidth": 1.1, "color": "#000000", "filled": false, "opacity": 1},
 "encoding": {"x": {"field": "gx", "type": "quantitative", "axis": null}, "y": {"field": "gy", "type": "quantitative", "axis": null}}},
{"data": {"name": "arr2"}, "mark": {"type": "rule", "strokeWidth": 1.2},
 "encoding": {"x": {"field": "gx", "type": "quantitative", "axis": null}, "y": {"field": "gy", "type": "quantitative", "axis": null}, "x2": {"field": "hx"}, "y2": {"field": "hy"}, "color": {"field": "c", "type": "nominal", "scale": null}}},
{"data": {"name": "arr2"}, "mark": {"type": "point", "shape": "M0,-1L0.65,1L-0.65,1Z", "size": 196, "filled": true, "opacity": 1},
 "encoding": {"x": {"field": "hx", "type": "quantitative", "axis": null}, "y": {"field": "hy", "type": "quantitative", "axis": null}, "angle": {"field": "ang", "type": "quantitative", "scale": null}, "color": {"field": "c", "type": "nominal", "scale": null}}},
{"data": {"name": "ann2"}, "mark": {"type": "text", "fontSize": 24, "align": "left", "baseline": "alphabetic"},
 "encoding": {"x": {"field": "gx", "type": "quantitative", "axis": null}, "y": {"field": "gy", "type": "quantitative", "axis": null}, "text": {"field": "t"}, "color": {"field": "c", "type": "nominal", "scale": null}}},
{"data": {"name": "ftit2"}, "mark": {"type": "text", "fontSize": 19.5, "align": "center", "baseline": "alphabetic", "color": "#111111"},
 "encoding": {"x": {"field": "gx", "type": "quantitative", "axis": null}, "y": {"field": "gy", "type": "quantitative", "axis": null}, "text": {"field": "t"}}},
{"data": {"name": "ylab2"}, "mark": {"type": "text", "fontSize": 25, "align": "center", "baseline": "middle", "angle": 270, "color": "#000000"},
 "encoding": {"x": {"field": "gx", "type": "quantitative", "axis": null}, "y": {"field": "gy", "type": "quantitative", "axis": null}, "text": {"field": "t"}}}
]}
],
"resolve": {"scale": {"x": "independent", "y": "independent", "size": "independent"}}
},
{
"hconcat": [
{"width": 300, "height": 388, "data": {"values": []}, "mark": {"type": "text"}, "encoding": {}},
{
"width": 497, "height": 388,
"view": {"stroke": "#000000", "strokeWidth": 2},
"layer": [
{"data": {"name": "rh"}, "mark": {"type": "line", "color": "#ff0000", "strokeWidth": 2, "interpolate": "monotone"},
 "encoding": {
  "x": {"field": "f", "type": "quantitative", "scale": {"domain": [0, 10], "nice": false},
   "axis": {"orient": "bottom", "values": [0, 2, 4, 6, 8, 10], "grid": true, "gridColor": "#c0c0c0", "gridWidth": 2, "domainColor": "#000000", "domainWidth": 2, "tickColor": "#000000", "tickWidth": 2, "tickSize": 8, "labelFontSize": 22, "labelColor": "#000000", "labelPadding": 11, "labelFlush": false, "labelOverlap": false, "format": "d", "title": "Freq (GHz)", "titleFontSize": 20, "titleFontWeight": "bold", "titleColor": "#000000", "titleY": 65, "titleBaseline": "alphabetic"}},
  "y": {"field": "v", "type": "quantitative", "scale": {"domain": [-0.4, 0.8], "nice": false, "zero": false},
   "axis": {"orient": "left", "values": [-0.4, -0.2, 0, 0.2, 0.4, 0.6, 0.8], "grid": true, "gridColor": "#c0c0c0", "gridWidth": 2, "domainColor": "#000000", "domainWidth": 2, "tickColor": "#000000", "tickWidth": 2, "tickSize": 14, "labelFontSize": 19.5, "labelColor": "#000000", "labelPadding": 9, "labelFlush": false, "labelOverlap": false,
    "labelExpr": "datum.value < 0 ? '-' + format(-datum.value, '.1f') : format(datum.value, '.1f')",
    "title": "S\u2082\u2081", "titleFontSize": 26, "titleFontWeight": "bold", "titleColor": "#000000", "titleX": -81, "titleY": 194, "titleAngle": 270, "titleAlign": "center", "titleBaseline": "middle"}}}},
{"data": {"name": "ih"}, "mark": {"type": "line", "color": "#0000ff", "strokeWidth": 2, "interpolate": "monotone"},
 "encoding": {
  "x": {"field": "f", "type": "quantitative", "axis": {"orient": "bottom", "values": [1, 3, 5, 7, 9], "grid": false, "domain": false, "labels": false, "tickColor": "#000000", "tickWidth": 2, "tickSize": 8, "title": null}},
  "y": {"field": "v", "type": "quantitative", "axis": {"orient": "left", "values": [-0.3, -0.1, 0.1, 0.3, 0.5, 0.7], "grid": false, "domain": false, "labels": false, "tickColor": "#000000", "tickWidth": 2, "tickSize": 8, "title": null}}}},
{"data": {"name": "ix"}, "mark": {"type": "point", "shape": "M-1,-1L1,1M-1,1L1,-1", "size": 100, "strokeWidth": 2.2, "color": "#5f9ea0", "filled": false, "opacity": 1},
 "encoding": {"x": {"field": "f", "type": "quantitative", "axis": null}, "y": {"field": "v", "type": "quantitative", "axis": null}}},
{"data": {"name": "im"}, "mark": {"type": "point", "shape": "M-1,0L1,0M0,-1L0,1", "size": 121, "strokeWidth": 2.2, "color": "#000000", "filled": false, "opacity": 1},
 "encoding": {"x": {"field": "f", "type": "quantitative", "axis": null}, "y": {"field": "v", "type": "quantitative", "axis": null}}},
{"data": {"name": "rx"}, "mark": {"type": "point", "shape": "M-1,-1L1,1M-1,1L1,-1", "size": 100, "strokeWidth": 2.2, "color": "#ff00ff", "filled": false, "opacity": 1},
 "encoding": {"x": {"field": "f", "type": "quantitative", "axis": null}, "y": {"field": "v", "type": "quantitative", "axis": null}}},
{"data": {"name": "rm"}, "mark": {"type": "point", "shape": "M-1,0L1,0M0,-1L0,1", "size": 121, "strokeWidth": 2.2, "color": "#ffb031", "filled": false, "opacity": 1},
 "encoding": {"x": {"field": "f", "type": "quantitative", "axis": null}, "y": {"field": "v", "type": "quantitative", "axis": null}}},
{"data": {"name": "lab"}, "mark": {"type": "text", "fontSize": 22.5, "fontWeight": "bold", "align": "left", "baseline": "alphabetic", "color": "#000000"},
 "encoding": {"x": {"field": "f", "type": "quantitative", "axis": null}, "y": {"field": "v", "type": "quantitative", "axis": null}, "text": {"field": "t"}}},
{"data": {"name": "ell"}, "mark": {"type": "point", "shape": "M0,-1A0.62,1,0,1,1,0,1A0.62,1,0,1,1,0,-1", "size": 1764, "strokeWidth": 2.2, "color": "#000000", "filled": false, "opacity": 1},
 "encoding": {"x": {"field": "f", "type": "quantitative", "axis": null}, "y": {"field": "v", "type": "quantitative", "axis": null}}}
],
"resolve": {"axis": {"x": "independent", "y": "independent"}}
}
],
"spacing": 9,
"bounds": "flush"
}
],
"spacing": 42,
"bounds": "flush"
}
